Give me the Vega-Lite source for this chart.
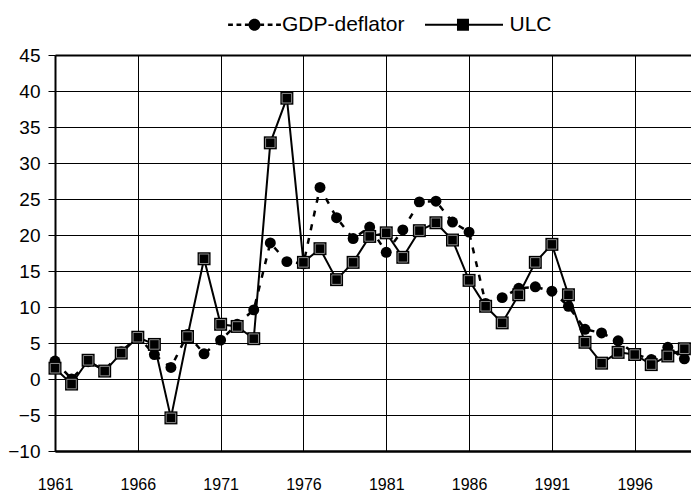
{
  "$schema": "https://vega.github.io/schema/vega-lite/v6.json",
  "width": 636,
  "height": 396,
  "autosize": {"type": "none"},
  "padding": {"left": 55, "top": 55, "right": 0, "bottom": 40},
  "background": "white",
  "config": {"view": {"stroke": null}, "font": "Liberation Sans"},
  "data": {
    "values": [
      {"year": 1961, "series": "GDP-deflator", "value": 2.5},
      {"year": 1962, "series": "GDP-deflator", "value": 0.0},
      {"year": 1963, "series": "GDP-deflator", "value": 2.4},
      {"year": 1964, "series": "GDP-deflator", "value": 1.2},
      {"year": 1965, "series": "GDP-deflator", "value": 3.8},
      {"year": 1966, "series": "GDP-deflator", "value": 5.9},
      {"year": 1967, "series": "GDP-deflator", "value": 3.4},
      {"year": 1968, "series": "GDP-deflator", "value": 1.6},
      {"year": 1969, "series": "GDP-deflator", "value": 6.2},
      {"year": 1970, "series": "GDP-deflator", "value": 3.5},
      {"year": 1971, "series": "GDP-deflator", "value": 5.4},
      {"year": 1972, "series": "GDP-deflator", "value": 7.6},
      {"year": 1973, "series": "GDP-deflator", "value": 9.6},
      {"year": 1974, "series": "GDP-deflator", "value": 18.9},
      {"year": 1975, "series": "GDP-deflator", "value": 16.3},
      {"year": 1976, "series": "GDP-deflator", "value": 16.0},
      {"year": 1977, "series": "GDP-deflator", "value": 26.6},
      {"year": 1978, "series": "GDP-deflator", "value": 22.4},
      {"year": 1979, "series": "GDP-deflator", "value": 19.5},
      {"year": 1980, "series": "GDP-deflator", "value": 21.1},
      {"year": 1981, "series": "GDP-deflator", "value": 17.6},
      {"year": 1982, "series": "GDP-deflator", "value": 20.7},
      {"year": 1983, "series": "GDP-deflator", "value": 24.6},
      {"year": 1984, "series": "GDP-deflator", "value": 24.7},
      {"year": 1985, "series": "GDP-deflator", "value": 21.8},
      {"year": 1986, "series": "GDP-deflator", "value": 20.4},
      {"year": 1987, "series": "GDP-deflator", "value": 10.5},
      {"year": 1988, "series": "GDP-deflator", "value": 11.3},
      {"year": 1989, "series": "GDP-deflator", "value": 12.6},
      {"year": 1990, "series": "GDP-deflator", "value": 12.8},
      {"year": 1991, "series": "GDP-deflator", "value": 12.2},
      {"year": 1992, "series": "GDP-deflator", "value": 10.1},
      {"year": 1993, "series": "GDP-deflator", "value": 6.9},
      {"year": 1994, "series": "GDP-deflator", "value": 6.4},
      {"year": 1995, "series": "GDP-deflator", "value": 5.3},
      {"year": 1996, "series": "GDP-deflator", "value": 3.5},
      {"year": 1997, "series": "GDP-deflator", "value": 2.7},
      {"year": 1998, "series": "GDP-deflator", "value": 4.4},
      {"year": 1999, "series": "GDP-deflator", "value": 2.8},
      {"year": 1961, "series": "ULC", "value": 1.5},
      {"year": 1962, "series": "ULC", "value": -0.7},
      {"year": 1963, "series": "ULC", "value": 2.6},
      {"year": 1964, "series": "ULC", "value": 1.1},
      {"year": 1965, "series": "ULC", "value": 3.6},
      {"year": 1966, "series": "ULC", "value": 5.8},
      {"year": 1967, "series": "ULC", "value": 4.8},
      {"year": 1968, "series": "ULC", "value": -5.4},
      {"year": 1969, "series": "ULC", "value": 5.9},
      {"year": 1970, "series": "ULC", "value": 16.7},
      {"year": 1971, "series": "ULC", "value": 7.6},
      {"year": 1972, "series": "ULC", "value": 7.3},
      {"year": 1973, "series": "ULC", "value": 5.6},
      {"year": 1974, "series": "ULC", "value": 32.8},
      {"year": 1975, "series": "ULC", "value": 39.0},
      {"year": 1976, "series": "ULC", "value": 16.2},
      {"year": 1977, "series": "ULC", "value": 18.1},
      {"year": 1978, "series": "ULC", "value": 13.8},
      {"year": 1979, "series": "ULC", "value": 16.2},
      {"year": 1980, "series": "ULC", "value": 19.8},
      {"year": 1981, "series": "ULC", "value": 20.3},
      {"year": 1982, "series": "ULC", "value": 16.9},
      {"year": 1983, "series": "ULC", "value": 20.6},
      {"year": 1984, "series": "ULC", "value": 21.7},
      {"year": 1985, "series": "ULC", "value": 19.3},
      {"year": 1986, "series": "ULC", "value": 13.7},
      {"year": 1987, "series": "ULC", "value": 10.1},
      {"year": 1988, "series": "ULC", "value": 7.8},
      {"year": 1989, "series": "ULC", "value": 11.7},
      {"year": 1990, "series": "ULC", "value": 16.2},
      {"year": 1991, "series": "ULC", "value": 18.7},
      {"year": 1992, "series": "ULC", "value": 11.7},
      {"year": 1993, "series": "ULC", "value": 5.1},
      {"year": 1994, "series": "ULC", "value": 2.2},
      {"year": 1995, "series": "ULC", "value": 3.7},
      {"year": 1996, "series": "ULC", "value": 3.4},
      {"year": 1997, "series": "ULC", "value": 2.0},
      {"year": 1998, "series": "ULC", "value": 3.2},
      {"year": 1999, "series": "ULC", "value": 4.2}
    ]
  },
  "encoding": {
    "x": {
      "field": "year",
      "type": "quantitative",
      "scale": {"domain": [1961, 1999.4], "nice": false, "zero": false},
      "axis": null
    },
    "y": {
      "field": "value",
      "type": "quantitative",
      "scale": {"domain": [-10, 45], "nice": false, "zero": false},
      "axis": {
        "title": null,
        "values": [-10, -5, 0, 5, 10, 15, 20, 25, 30, 35, 40, 45],
        "grid": true,
        "gridColor": "black",
        "gridOpacity": 1,
        "gridWidth": {"condition": {"test": "datum.value === 45 || datum.value === -10", "value": 2}, "value": 1},
        "domain": true,
        "domainColor": "black",
        "domainWidth": 2,
        "ticks": true,
        "tickColor": "black",
        "tickWidth": 1,
        "tickSize": 7,
        "labelPadding": 8,
        "labelFlush": false,
        "labelFont": "Liberation Sans",
        "labelFontSize": 19,
        "labelColor": "black"
      }
    }
  },
  "resolve": {"axis": {"x": "independent"}},
  "layer": [
    {
      "transform": [{"filter": "datum.series === 'GDP-deflator'"}],
      "mark": {"type": "line", "color": "black", "strokeWidth": 2.5, "strokeDash": [6, 8]},
      "encoding": {
        "x": {
          "field": "year",
          "type": "quantitative",
          "scale": {"domain": [1961, 1999.4], "nice": false, "zero": false},
          "axis": {
            "title": null,
            "values": [1961, 1966, 1971, 1976, 1981, 1986, 1991, 1996],
            "format": "d",
            "grid": true,
            "gridColor": "black",
            "gridOpacity": 1,
            "gridWidth": 1,
            "domain": true,
            "domainColor": "black",
            "domainWidth": 2,
            "ticks": false,
            "labelPadding": 38,
            "labelFlush": false,
            "labelOverlap": false,
            "labelBaseline": "alphabetic",
            "labelFont": "Liberation Sans",
            "labelFontSize": 16,
            "labelColor": "black"
          }
        }
      }
    },
    {
      "transform": [{"filter": "datum.series === 'GDP-deflator'"}],
      "mark": {"type": "point", "shape": "circle", "filled": true, "color": "black", "size": 120, "opacity": 1}
    },
    {
      "transform": [{"filter": "datum.series === 'ULC'"}],
      "mark": {"type": "line", "color": "black", "strokeWidth": 2},
      "encoding": {
        "x": {
          "field": "year",
          "type": "quantitative",
          "scale": {"domain": [1961, 1999.4], "nice": false, "zero": false},
          "axis": {
            "orient": "bottom",
            "offset": -72,
            "title": null,
            "values": [1961, 1966, 1971, 1976, 1981, 1986, 1991, 1996],
            "grid": false,
            "domain": false,
            "labels": false,
            "ticks": true,
            "tickColor": "black",
            "tickWidth": 1,
            "tickSize": 6
          }
        }
      }
    },
    {
      "transform": [{"filter": "datum.series === 'ULC'"}],
      "mark": {"type": "point", "shape": "square", "filled": true, "color": "black", "size": 169, "opacity": 1}
    },
    {
      "transform": [{"filter": "datum.series === 'ULC'"}],
      "mark": {"type": "point", "shape": "square", "filled": false, "stroke": "#8c8c8c", "strokeWidth": 1, "size": 90, "opacity": 1}
    },
    {
      "mark": {"type": "point", "filled": true, "color": "black", "opacity": 0},
      "encoding": {
        "shape": {
          "field": "series",
          "type": "nominal",
          "scale": {
            "domain": ["GDP-deflator", "ULC"],
            "range": [
              "M-4.4,-0.22H-3.6V0.22H-4.4Z M-3,-0.22H-2.2V0.22H-3Z M-1.6,-0.22H-1V0.22H-1.6Z M1,-0.22H1.6V0.22H1Z M2.2,-0.22H3V0.22H2.2Z M3.6,-0.22H4.4V0.22H3.6Z M1,0A1,1,0,1,1,-1,0A1,1,0,1,1,1,0Z",
              "M-9.5,-0.17H3.5V0.17H-9.5Z M-4.17,-1H-2.17V1H-4.17Z"
            ]
          },
          "legend": {
            "title": null,
            "orient": "none",
            "direction": "horizontal",
            "legendX": 189,
            "legendY": -41,
            "symbolSize": 144,
            "symbolOpacity": 1,
            "symbolFillColor": "black",
            "symbolStrokeWidth": 0,
            "labelOffset": 17,
            "columnPadding": 19.5,
            "labelFont": "Liberation Sans",
            "labelFontSize": 21,
            "labelColor": "black",
            "labelBaseline": "middle"
          }
        }
      }
    }
  ]
}
